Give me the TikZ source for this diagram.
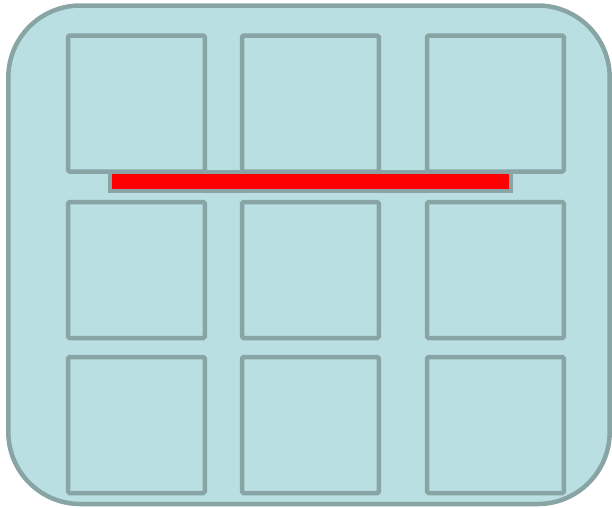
\documentclass[tikz,border=0pt]{standalone}
\usepackage{tikz}
\definecolor{panelfill}{HTML}{B9DFE2}
\definecolor{panelline}{HTML}{88A4A5}

\begin{document}
\begin{tikzpicture}[x=1pt,y=-1pt,
    cell/.style={draw=panelline,line width=4.5pt,rounded corners=1.5pt},
    frame/.style={draw=panelline,fill=panelfill,line width=4.5pt,rounded corners=72pt}]
  \useasboundingbox (0,0) rectangle (612,507);
  \draw[frame] (8.3,5.5) rectangle (609.7,504);
  \foreach \x in {68,242,427}
    \foreach \y in {35.5,202,357}
      \draw[cell] (\x,\y) rectangle ++(136.8,136);
  \draw[draw=panelline,fill=red,line width=4pt] (110,172) rectangle (511,191);
\end{tikzpicture}
\end{document}
